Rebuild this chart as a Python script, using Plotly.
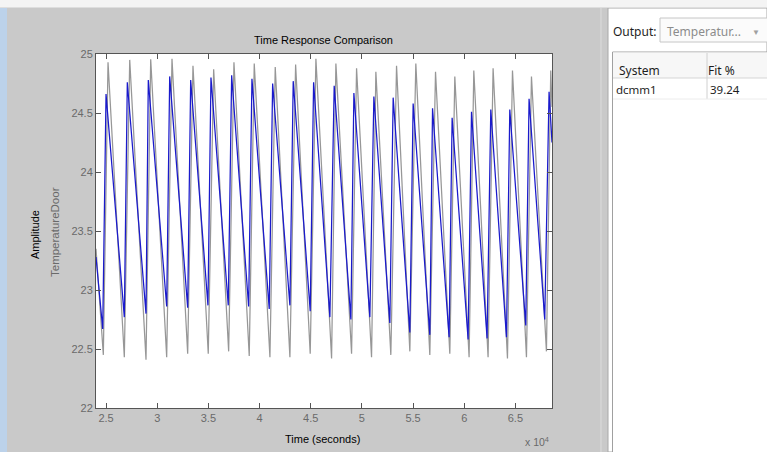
import plotly.graph_objects as go

# Measured output (gray): turning points of each cycle, time in seconds
meas_trough_t = [24736, 26787, 28906, 30928, 32979, 34990, 36983, 38994, 41016, 42969, 44952, 47042,
                 48994, 50947, 52832, 54688, 56641, 58594, 60479, 62334, 64229, 66084, 68037]
meas_trough_v = [22.45, 22.43, 22.41, 22.43, 22.46, 22.46, 22.48, 22.44, 22.43, 22.43, 22.46, 22.42,
                 22.46, 22.43, 22.45, 22.48, 22.45, 22.46, 22.43, 22.43, 22.42, 22.43, 22.48]
meas_peak_t = [25195, 27315, 29365, 31446, 33496, 35518, 37500, 39483, 41534, 43526, 45509, 47462,
               49483, 51368, 53389, 55274, 57198, 59083, 60938, 62823, 64718, 66573, 68458]
meas_peak_v = [24.93, 24.95, 24.955, 24.96, 24.90, 24.87, 24.93, 24.92, 24.89, 24.91, 24.96, 24.92,
               24.88, 24.85, 24.90, 24.92, 24.85, 24.81, 24.86, 24.88, 24.86, 24.81, 24.86]
meas_start = (24020, 23.35)
meas_end = (68580, 24.55)

# Simulated model output dcmm1 (blue)
model_trough_t = [24678, 26787, 28906, 30928, 32979, 34961, 36944, 38936, 40948, 42969, 44952, 46876,
                  48926, 50781, 52734, 54688, 56641, 58526, 60382, 62237, 64131, 66016, 67871]
model_trough_v = [22.67, 22.77, 22.80, 22.86, 22.85, 22.87, 22.87, 22.86, 22.84, 22.87, 22.82, 22.77,
                  22.75, 22.77, 22.72, 22.64, 22.62, 22.60, 22.58, 22.59, 22.60, 22.70, 22.75]
model_peak_t = [25000, 27080, 29131, 31221, 33272, 35254, 37276, 39258, 41280, 43291, 45284, 47296,
                49220, 51173, 53058, 55011, 56906, 58820, 60714, 62599, 64455, 66339, 68293]
model_peak_v = [24.66, 24.76, 24.78, 24.81, 24.78, 24.80, 24.82, 24.79, 24.75, 24.77, 24.76, 24.73,
                24.67, 24.64, 24.63, 24.58, 24.54, 24.46, 24.51, 24.53, 24.53, 24.62, 24.68]
model_start = (24020, 23.28)
model_end = (68580, 24.25)

x_tick_vals = [25000, 30000, 35000, 40000, 45000, 50000, 55000, 60000, 65000]
x_tick_text = ["2.5", "3", "3.5", "4", "4.5", "5", "5.5", "6", "6.5"]
y_tick_vals = [22, 22.5, 23, 23.5, 24, 24.5, 25]
y_tick_text = ["22", "22.5", "23", "23.5", "24", "24.5", "25"]

fit_system = "dcmm1"
fit_percent = "39.24"


def path(start, trough_t, trough_v, peak_t, peak_v, end):
    xs, ys = [start[0]], [start[1]]
    for tt, tv, pt, pv in zip(trough_t, trough_v, peak_t, peak_v):
        xs += [tt, pt]
        ys += [tv, pv]
    xs.append(end[0])
    ys.append(end[1])
    return xs, ys


W, H = 767, 452
L, R, T, B = 96, 552, 54, 408  # plot-area edges in pixels


def px(x):
    return (x - L) / (R - L)


def py(y):
    return (B - y) / (B - T)


FONT = "Liberation Sans, Arial, sans-serif"
UI_FONT = "Noto Sans, Open Sans, sans-serif"

mx, my = path(meas_start, meas_trough_t, meas_trough_v, meas_peak_t, meas_peak_v, meas_end)
sx, sy = path(model_start, model_trough_t, model_trough_v, model_peak_t, model_peak_v, model_end)

fig = go.Figure()
fig.add_trace(go.Scatter(x=mx, y=my, mode="lines", line=dict(color="#979797", width=1.25),
                         name="Measured", showlegend=False, hoverinfo="skip"))
fig.add_trace(go.Scatter(x=sx, y=sy, mode="lines", line=dict(color="#1a1acc", width=1.25),
                         name=fit_system, showlegend=False, hoverinfo="skip"))

axis_common = dict(showgrid=False, zeroline=False, showline=True, linecolor="#555555", linewidth=1,
                   mirror="ticks", ticks="inside", ticklen=5, tickcolor="#555555",
                   tickfont=dict(family=FONT, size=11, color="#6a6a6a"))

shapes = [
    # window chrome: top strip, left stripe
    dict(type="rect", xref="paper", yref="paper", x0=px(0), x1=px(W), y0=py(0), y1=py(7),
         fillcolor="#f4f4f4", line_width=0, layer="below"),
    dict(type="line", xref="paper", yref="paper", x0=px(0), x1=px(W), y0=py(7.5), y1=py(7.5),
         line=dict(color="#dedede", width=1)),
    dict(type="rect", xref="paper", yref="paper", x0=px(0), x1=px(7), y0=py(8), y1=py(H),
         fillcolor="#bcd2ea", line_width=0, layer="below"),
    # right side panel
    dict(type="rect", xref="paper", yref="paper", x0=px(608), x1=px(W), y0=py(8), y1=py(H),
         fillcolor="#ffffff", line=dict(color="#a8a8a8", width=1), layer="below"),
    dict(type="line", xref="paper", yref="paper", x0=px(601), x1=px(601), y0=py(8), y1=py(H),
         line=dict(color="#dcdcdc", width=1)),
    # output dropdown
    dict(type="rect", xref="paper", yref="paper", x0=px(660), x1=px(W + 2), y0=py(18), y1=py(42),
         fillcolor="#fbfbfb", line=dict(color="#c6c6c6", width=1)),
    # results table
    dict(type="rect", xref="paper", yref="paper", x0=px(612.5), x1=px(W + 2), y0=py(52), y1=py(H + 2),
         fillcolor="#ffffff", line=dict(color="#a0a0a0", width=1)),
    dict(type="rect", xref="paper", yref="paper", x0=px(613), x1=px(W + 2), y0=py(52.5), y1=py(78),
         fillcolor="#f7f7f7", line_width=0),
    dict(type="line", xref="paper", yref="paper", x0=px(613), x1=px(W), y0=py(78), y1=py(78),
         line=dict(color="#d5d5d5", width=1)),
    dict(type="line", xref="paper", yref="paper", x0=px(707), x1=px(707), y0=py(53), y1=py(99),
         line=dict(color="#d0d0d0", width=1)),
    dict(type="line", xref="paper", yref="paper", x0=px(613), x1=px(W), y0=py(99), y1=py(99),
         line=dict(color="#ececec", width=1)),
]


def note(x, y, text, size=11, color="#000000", family=FONT, xanchor="center", angle=0):
    return dict(xref="paper", yref="paper", x=px(x), y=py(y), text=text, showarrow=False,
                xanchor=xanchor, yanchor="middle", textangle=angle,
                font=dict(family=family, size=size, color=color))


annotations = [
    note(323, 40, "Time Response Comparison", size=11),
    note(322, 439, "Time (seconds)", size=11),
    note(537, 442, "x 10<sup>4</sup>", size=10.5, color="#6a6a6a"),
    note(35, 235, "Amplitude", size=11, angle=-90),
    note(55, 232, "TemperatureDoor", size=11.5, color="#6a6a6a", angle=-90),
    note(611, 31, "Output:", size=12, color="#1e1e1e", family=UI_FONT, xanchor="left"),
    note(665, 31, "Temperatur...", size=12, color="#8c8c8c", family=UI_FONT, xanchor="left"),
    note(756, 31, "▼", size=8, color="#a0a0a0", family=UI_FONT),
    note(617, 70, "System", size=12, color="#1e1e1e", family=UI_FONT, xanchor="left"),
    note(721, 70, "Fit %", size=12, color="#1e1e1e", family=UI_FONT),
    note(614, 89, fit_system, size=11.5, color="#1e1e1e", family=UI_FONT, xanchor="left"),
    note(708, 89, fit_percent, size=11.5, color="#1e1e1e", family=UI_FONT, xanchor="left"),
]

fig.update_layout(
    width=W, height=H,
    margin=dict(l=L, r=W - R, t=T, b=H - B, pad=0),
    paper_bgcolor="#c9c9c9", plot_bgcolor="#ffffff",
    xaxis=dict(range=[24020, 68580], tickvals=x_tick_vals, ticktext=x_tick_text, **axis_common),
    yaxis=dict(range=[22, 25], tickvals=y_tick_vals, ticktext=y_tick_text, **axis_common),
    shapes=shapes, annotations=annotations,
)

fig.write_html("out.html")
